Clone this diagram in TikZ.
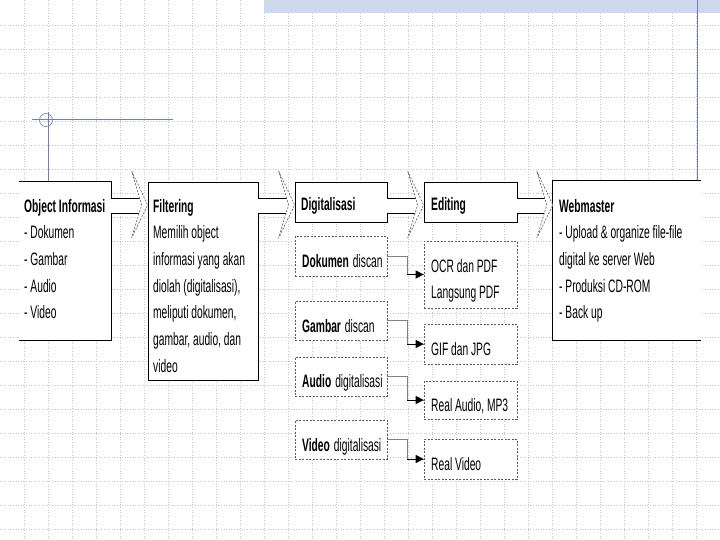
\documentclass[tikz,border=0pt]{standalone}
\usepackage{fontspec}
\setmainfont{Liberation Sans}[FakeStretch=0.57]
\usetikzlibrary{arrows.meta,calc}
\definecolor{gridc}{RGB}{200,200,200}
\definecolor{slate}{RGB}{112,128,176}
\definecolor{band}{RGB}{205,216,236}
\definecolor{dashc}{RGB}{90,90,90}
\begin{document}
\begin{tikzpicture}[x=1pt,y=-1pt,
  txt/.style={anchor=base west,inner sep=0,font=\fontsize{18}{20}\selectfont},
  solidbox/.style={draw=black,line width=0.8pt,fill=white,inner sep=0,rectangle},
  openbox/.style={draw=none,fill=white,inner sep=0,rectangle},
  dashbox/.style={draw=dashc,dash pattern=on 2pt off 1.5pt,line width=0.7pt,fill=white,inner sep=0,rectangle},
  chev/.style={draw=dashc,dash pattern=on 2pt off 1.5pt,line width=0.6pt,fill=white},
  shaft/.style={draw=black,line width=0.8pt},
  conn/.style={draw=gray,line width=0.6pt},
  arr/.style={draw=black,line width=1pt,-{Triangle[length=8pt,width=8pt]}},
  deco/.style={draw=slate,line width=0.8pt}]
\useasboundingbox (0,0) rectangle (720,540);
\fill[white] (0,0) rectangle (720,540);
% grid
\foreach \x in {24,48,...,696} \draw[gridc,dotted,line width=0.6pt] (\x,0) -- (\x,540);
\foreach \y in {25,49,...,529} \draw[gridc,dotted,line width=0.6pt] (0,\y) -- (720,\y);
% top band and decorations
\fill[band] (264,0) rectangle (720,13);
\draw[deco] (697,0) -- (697,181);
\draw[deco] (32,119) -- (173,119);
\draw[deco] (48,112) -- (48,182);
\draw[deco,line width=0.6pt] (46,120) circle (6.5);
% main boxes
\node[openbox,minimum width=92,minimum height=158] (obj) at (65,261) {};
\draw[line width=0.8pt] (obj.north west) -- (obj.north east) -- (obj.south east) -- (obj.south west);
\node[solidbox,minimum width=110,minimum height=198] (filt) at (203,281) {};
\node[solidbox,minimum width=92,minimum height=40] (digi) at (341,202) {};
\node[solidbox,minimum width=93,minimum height=40] (edit) at (470.5,202) {};
\node[openbox,minimum width=148,minimum height=159] (web) at (627,260.5) {};
\draw[line width=0.8pt] (web.north east) -- (web.north west) -- (web.south west) -- (web.south east);
% dashed boxes
\node[dashbox,minimum width=92,minimum height=40] (dok) at (341,256) {};
\node[dashbox,minimum width=92,minimum height=39] (gam) at (341,320.5) {};
\node[dashbox,minimum width=92,minimum height=39] (aud) at (341,376.5) {};
\node[dashbox,minimum width=92,minimum height=39] (vid) at (341,439.5) {};
\node[dashbox,minimum width=93,minimum height=67] (ocr) at (470.5,274.5) {};
\node[dashbox,minimum width=93,minimum height=40] (gif) at (470.5,344) {};
\node[dashbox,minimum width=93,minimum height=38] (ra) at (470.5,400) {};
\node[dashbox,minimum width=93,minimum height=40] (rv) at (470.5,459) {};
% block arrows
\foreach \s/\e in {obj/filt,filt/digi,digi/edit,edit/web}{
  \coordinate (s) at (\s.east |- 0,205);
  \coordinate (t) at (\e.west |- 0,205);
  \fill[white] ($(s)+(0,-7)$) rectangle ($(t)+(-8,8)$);
  \draw[shaft] ($(s)+(0,-7)$) -- ($(t)+(-8,-7)$) ($(s)+(0,8)$) -- ($(t)+(-8,8)$);
  \draw[chev] ($(t)+(-16,-34)$) -- (t) -- ($(t)+(-16,33)$) -- ($(t)+(-6,0)$) -- cycle;
}
% connectors
\foreach \a/\b in {dok/ocr,gam/gif,aud/ra,vid/rv}{
  \draw[conn] (\a.east) -- ++(20,0) coordinate (m) |- (\b.west);
  \draw[arr] (m |- \b.west) -- (\b.west);
}
% texts
\node[txt] (objT) at (24,212) {\textbf{Object Informasi}};
\foreach \l [count=\i from 1] in {- Dokumen,- Gambar,- Audio,- Video}
  \node[txt] (obj\i) at (24,212+26.7*\i) {\l};
\node[txt] (filtT) at (153,212) {\textbf{Filtering}};
\foreach \l [count=\i from 1] in {Memilih object,informasi yang akan,{diolah (digitalisasi),},{meliputi dokumen,},{gambar, audio, dan},video}
  \node[txt] (filt\i) at (153,212+26.7*\i) {\l};
\node[txt] (digiT) at (301,211) {\textbf{Digitalisasi}};
\node[txt] (editT) at (431,211) {\textbf{Editing}};
\node[txt] (webT) at (559,212) {\textbf{Webmaster}};
\foreach \l [count=\i from 1] in {- Upload \& organize file-file,digital ke server Web,- Produksi CD-ROM,- Back up}
  \node[txt] (web\i) at (559,212+26.7*\i) {\l};
\node[txt] (dokT) at (302,267) {\textbf{Dokumen}\hspace{4pt}discan};
\node[txt] (gamT) at (302,332) {\textbf{Gambar}\hspace{4pt}discan};
\node[txt] (audT) at (302,387) {\textbf{Audio}\hspace{4pt}digitalisasi};
\node[txt] (vidT) at (302,451) {\textbf{Video}\hspace{4pt}digitalisasi};
\node[txt] (ocrT) at (431,272) {OCR dan PDF};
\node[txt] (ocrT2) at (431,298) {Langsung PDF};
\node[txt] (gifT) at (431,355) {GIF dan JPG};
\node[txt] (raT) at (431,411) {Real Audio, MP3};
\node[txt] (rvT) at (431,470) {Real Video};
\end{tikzpicture}
\end{document}
